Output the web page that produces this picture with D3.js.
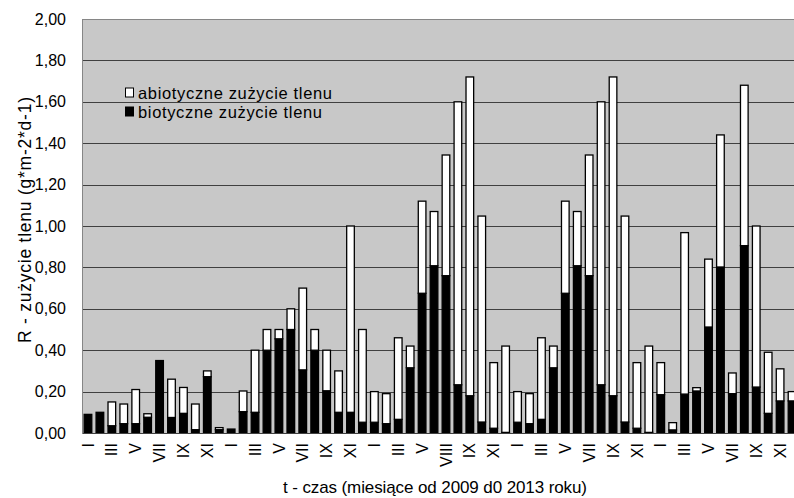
<!DOCTYPE html>
<html>
<head>
<meta charset="utf-8">
<script src="https://cdn.jsdelivr.net/npm/d3@7/dist/d3.min.js"></script>
<style>
  html, body { margin: 0; padding: 0; background: #fff; overflow: hidden; }
  svg { display: block; font-family: "Liberation Sans", Arial, sans-serif; }
</style>
</head>
<body>
<svg id="chart" width="794" height="498"></svg>
<script>
// Month labels (only odd months labelled on the axis)
const monthLabels = [
  "I","","III","","V","","VII","","IX","","XI","",
  "I","","III","","V","","VII","","IX","","XI","",
  "I","","III","","V","","VIII","","IX","","XI","",
  "I","","III","","V","","VII","","IX","","XI","",
  "I","","III","","V","","VII","","IX","","XI",""
];
// biotyczne zużycie tlenu (black, bottom)
const biotic = [
  0.090,0.100,0.035,0.045,0.045,0.076,0.350,0.075,0.095,0.016,0.272,0.016,
  0.019,0.103,0.100,0.400,0.455,0.500,0.305,0.400,0.204,0.100,0.100,0.052,
  0.052,0.045,0.066,0.315,0.675,0.808,0.760,0.233,0.180,0.053,0.023,0.003,
  0.052,0.045,0.066,0.315,0.675,0.808,0.760,0.233,0.180,0.053,0.023,0.003,
  0.185,0.015,0.188,0.203,0.512,0.802,0.190,0.905,0.222,0.095,0.155,0.155
];
// abiotyczne zużycie tlenu (white, top)
const abiotic = [
  0.000,0.000,0.115,0.095,0.165,0.017,0.000,0.185,0.125,0.124,0.028,0.010,
  0.000,0.100,0.300,0.100,0.045,0.100,0.395,0.100,0.196,0.200,0.900,0.448,
  0.148,0.145,0.394,0.105,0.445,0.262,0.583,1.367,1.540,0.995,0.317,0.417,
  0.148,0.145,0.394,0.105,0.445,0.262,0.583,1.367,1.540,0.995,0.317,0.417,
  0.155,0.035,0.780,0.016,0.328,0.638,0.100,0.775,0.778,0.295,0.155,0.045
];
const yTicks = [0,0.2,0.4,0.6,0.8,1.0,1.2,1.4,1.6,1.8,2.0];
const seriesNames = ["abiotyczne zużycie tlenu", "biotyczne zużycie tlenu"];
const yTitle = "R - zużycie tlenu (g*m-2*d-1)";
const xTitle = "t - czas (miesiące od 2009 d0 2013 roku)";

const svg = d3.select("#chart");
const pLeft = 82, pRight = 798, pTop = 19, pBottom = 433;

const idx = d3.range(biotic.length);
const x = d3.scaleBand().domain(idx).range([pLeft, pRight]).paddingInner(0.36).paddingOuter(0.18);
const y = d3.scaleLinear().domain([0, 2]).range([pBottom, pTop]);
const fmt = v => d3.format(".2f")(v).replace(".", ",");

// plot background
svg.append("rect").attr("x", pLeft).attr("y", pTop)
  .attr("width", pRight - pLeft).attr("height", pBottom - pTop)
  .attr("fill", "#c8c8c8");

// gridlines
svg.append("g").selectAll("line").data(yTicks.slice(1, -1)).join("line")
  .attr("x1", pLeft).attr("x2", pRight)
  .attr("y1", d => Math.round(y(d)) + 0.5).attr("y2", d => Math.round(y(d)) + 0.5)
  .attr("stroke", "#404040").attr("stroke-width", 1);
// top border
svg.append("line").attr("x1", pLeft).attr("x2", pRight)
  .attr("y1", y(2) + 0.5).attr("y2", y(2) + 0.5)
  .attr("stroke", "#868686");

// y axis
const yAxis = d3.axisLeft(y).tickValues(yTicks).tickFormat(fmt).tickSize(0).tickPadding(16);
const gy = svg.append("g").attr("transform", `translate(${pLeft},0)`).call(yAxis);
gy.select(".domain").attr("stroke", "#868686");
gy.selectAll("text").attr("font-size", 16).attr("fill", "#000")
  .attr("font-family", "Liberation Sans, Arial, sans-serif");

// bars: biotic bottom
svg.append("g").selectAll("rect").data(idx).join("rect")
  .attr("x", i => x(i)).attr("width", x.bandwidth())
  .attr("y", i => y(biotic[i])).attr("height", i => y(0) - y(biotic[i]))
  .attr("fill", "#000").attr("stroke", "#000").attr("stroke-width", 1.3);
// abiotic top
svg.append("g").selectAll("rect").data(idx.filter(i => abiotic[i] > 0)).join("rect")
  .attr("x", i => x(i)).attr("width", x.bandwidth())
  .attr("y", i => y(biotic[i] + abiotic[i])).attr("height", i => y(biotic[i]) - y(biotic[i] + abiotic[i]))
  .attr("fill", "#fff").attr("stroke", "#000").attr("stroke-width", 1.3);

// x axis
const xAxis = d3.axisBottom(x).tickFormat(i => monthLabels[i]).tickSize(0).tickPadding(0);
const gx = svg.append("g").attr("transform", `translate(0,${pBottom})`).call(xAxis);
gx.select(".domain").attr("stroke", "#404040");
gx.selectAll("text")
  .attr("font-size", 16).attr("fill", "#000")
  .attr("font-family", "Liberation Sans, Arial, sans-serif")
  .attr("transform", "translate(0,10) rotate(-90)")
  .attr("text-anchor", "end")
  .attr("x", 0).attr("y", 0).attr("dy", "0.35em");

// axis titles
svg.append("text")
  .attr("transform", `translate(25,220) rotate(-90)`)
  .attr("text-anchor", "middle").attr("dy", "0.35em")
  .attr("font-size", 17.5).attr("textLength", 246).attr("lengthAdjust", "spacing")
  .text(yTitle);
svg.append("text")
  .attr("x", 435).attr("y", 493).attr("text-anchor", "middle")
  .attr("font-size", 17).attr("textLength", 304).attr("lengthAdjust", "spacing")
  .text(xTitle);

// legend
const legend = svg.append("g");
const legendFill = ["#fff", "#000"];
const legendY = [99, 118];
const legendLen = [194, 184];
seriesNames.forEach((name, k) => {
  legend.append("rect")
    .attr("x", 125.5).attr("y", legendY[k] - 11).attr("width", 8).attr("height", 9)
    .attr("fill", legendFill[k]).attr("stroke", "#000").attr("stroke-width", 1);
  legend.append("text")
    .attr("x", 138).attr("y", legendY[k])
    .attr("font-size", 16.5).attr("textLength", legendLen[k]).attr("lengthAdjust", "spacing")
    .text(name);
});
</script>
</body>
</html>
